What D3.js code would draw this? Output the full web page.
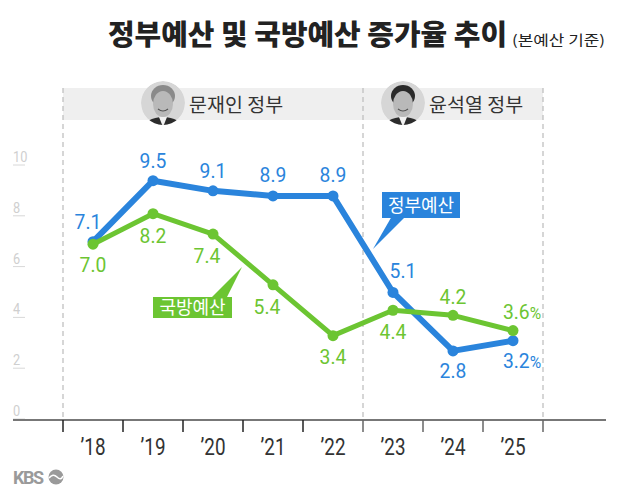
<!DOCTYPE html>
<html>
<head>
<meta charset="utf-8">
<script src="https://cdn.jsdelivr.net/npm/d3@7"></script>
<style>
  body { margin: 0; background: #fff; }
  svg { display: block; }
</style>
</head>
<body>
<div id="chart"></div>
<script>
// chart data
const years = ["’18", "’19", "’20", "’21", "’22", "’23", "’24", "’25"];
const govBudget = [7.1, 9.5, 9.1, 8.9, 8.9, 5.1, 2.8, 3.2];
const defBudget = [7.0, 8.2, 7.4, 5.4, 3.4, 4.4, 4.2, 3.6];
const yTicks = [0, 2, 4, 6, 8, 10];
const eras = [
  { name: "문재인 정부", from: 0, to: 5 },
  { name: "윤석열 정부", from: 5, to: 8 }
];

// label nudges (dx, dy from the point)
const govLabelPos = [[-5, -13], [0, -13], [0, -13], [0, -14], [0, -14], [10, -14], [0, 27], [9, 27]];
const defLabelPos = [[0, 28], [0, 29], [-6, 29], [-6, 29], [0, 28], [0, 29], [0, -11], [9, -12]];

const svgWidth = 618;
const svgHeight = 492;
const blue = "#2a84dc";
const green = "#6cc532";
const numFont = "Roboto, 'Noto Sans', sans-serif";
const krFont = "'Noto Sans CJK KR', 'Noto Sans', sans-serif";

const svg = d3.select("#chart")
  .append("svg")
  .attr("width", svgWidth)
  .attr("height", svgHeight);

// scales
const x = d3.scaleBand().domain(years).range([63, 543]);
const y = d3.scaleLinear().domain([0, 10]).range([422, 168]);
const cx = d => x(d) + x.bandwidth() / 2;

// title
svg.append("text")
  .attr("x", 108)
  .attr("y", 45)
  .attr("font-family", krFont)
  .attr("font-weight", 900)
  .attr("font-size", 28)
  .attr("fill", "#222")
  .attr("textLength", 399)
  .attr("lengthAdjust", "spacingAndGlyphs")
  .text("정부예산 및 국방예산 증가율 추이");

svg.append("text")
  .attr("x", 512)
  .attr("y", 45)
  .attr("font-family", krFont)
  .attr("font-size", 14)
  .attr("fill", "#222")
  .attr("textLength", 93)
  .attr("lengthAdjust", "spacingAndGlyphs")
  .text("(본예산 기준)");

// era band
const edges = d => d === years.length ? x.range()[1] : x(years[d]);
svg.append("rect")
  .attr("x", edges(0))
  .attr("y", 88)
  .attr("width", edges(8) - edges(0))
  .attr("height", 32)
  .attr("fill", "#efefef");

// dashed dividers
svg.append("g")
  .selectAll("line")
  .data([0, 5, 8])
  .enter()
  .append("line")
    .attr("x1", d => edges(d))
    .attr("x2", d => edges(d))
    .attr("y1", 88)
    .attr("y2", 420)
    .attr("stroke", "#bbb")
    .attr("stroke-width", 1.2)
    .attr("stroke-dasharray", "5,4");

// portraits + era names
const defs = svg.append("defs");
const faceX = [163, 403];
eras.forEach((e, i) => {
  const px = faceX[i], py = 103;
  defs.append("clipPath").attr("id", "clip" + i)
    .append("circle").attr("cx", px).attr("cy", py).attr("r", 22);
  const g = svg.append("g").attr("clip-path", `url(#clip${i})`);
  g.append("circle").attr("cx", px).attr("cy", py).attr("r", 22).attr("fill", "#d6d6d6");
  g.append("ellipse").attr("cx", px).attr("cy", py + 26).attr("rx", 20).attr("ry", 12).attr("fill", "#2c2c2c");
  g.append("path")
    .attr("d", `M${px - 4},${py + 14} L${px},${py + 24} L${px + 4},${py + 14} Z`)
    .attr("fill", "#f2f2f2");
  g.append("ellipse").attr("cx", px).attr("cy", py - 7).attr("rx", 12).attr("ry", 11)
    .attr("fill", i === 0 ? "#8a8a8a" : "#2a2a2a");
  g.append("ellipse").attr("cx", px).attr("cy", py + 1).attr("rx", 10).attr("ry", 13).attr("fill", "#b9b9b9");
  g.append("path")
    .attr("d", `M${px - 5},${py + 6} Q${px},${py + 10} ${px + 5},${py + 6}`)
    .attr("fill", "none").attr("stroke", "#555").attr("stroke-width", 1.2);

  svg.append("text")
    .attr("x", px + 26)
    .attr("y", 112)
    .attr("font-family", krFont)
    .attr("font-size", 19.5)
    .attr("fill", "#333")
    .text(e.name);
});

// y tick labels with underline
const yAxis = svg.append("g");
yTicks.forEach(t => {
  yAxis.append("text")
    .attr("transform", `translate(13, ${y(t) - 6}) scale(0.85, 1)`)
    .attr("font-family", numFont)
    .attr("font-size", 15)
    .attr("fill", "#cfcfcf")
    .text(t);
  yAxis.append("line")
    .attr("x1", 13).attr("x2", 25)
    .attr("y1", y(t) - 3).attr("y2", y(t) - 3)
    .attr("stroke", "#d8d8d8").attr("stroke-width", 1);
});

// x axis baseline, ticks and year labels
svg.append("line")
  .attr("x1", 13).attr("x2", 606)
  .attr("y1", 420).attr("y2", 420)
  .attr("stroke", "#777").attr("stroke-width", 2);

svg.append("g")
  .selectAll("line")
  .data(d3.range(years.length + 1))
  .enter()
  .append("line")
    .attr("x1", d => edges(d))
    .attr("x2", d => edges(d))
    .attr("y1", 420)
    .attr("y2", 432)
    .attr("stroke", d => d < 5 ? "#222" : "#666")
    .attr("stroke-width", 1.5);

svg.append("g")
  .selectAll("text")
  .data(years)
  .enter()
  .append("text")
    .attr("transform", d => `translate(${cx(d)}, 455) scale(0.82, 1)`)
    .attr("text-anchor", "middle")
    .attr("font-family", numFont)
    .attr("font-size", 23)
    .attr("fill", "#333")
    .text(d => d);

// lines
const line = d3.line()
  .x((d, i) => cx(years[i]))
  .y(d => y(d));

function drawSeries(values, color, width) {
  svg.append("path")
    .datum(values)
    .attr("d", line)
    .attr("fill", "none")
    .attr("stroke", color)
    .attr("stroke-width", width)
    .attr("stroke-linejoin", "round")
    .attr("stroke-linecap", "round");

  svg.append("g")
    .selectAll("circle")
    .data(values)
    .enter()
    .append("circle")
      .attr("cx", (d, i) => cx(years[i]))
      .attr("cy", d => y(d))
      .attr("r", 5.5)
      .attr("fill", color);
}

function drawLabels(values, pos, color) {
  values.forEach((v, i) => {
    const t = svg.append("text")
      .attr("transform", `translate(${cx(years[i]) + pos[i][0]}, ${y(v) + pos[i][1]}) scale(0.92, 1)`)
      .attr("text-anchor", "middle")
      .attr("font-family", numFont)
      .attr("font-size", 21)
      .attr("fill", color);
    t.append("tspan").text(v.toFixed(1));
    if (i === values.length - 1) {
      t.append("tspan").attr("font-size", 17).text("%");
    }
  });
}

drawSeries(govBudget, blue, 6);
drawSeries(defBudget, green, 5);
drawLabels(govBudget, govLabelPos, blue);
drawLabels(defBudget, defLabelPos, green);

// callouts
function callout(label, color, box, tri) {
  svg.append("path")
    .attr("d", `M${tri[0][0]},${tri[0][1]} L${tri[1][0]},${tri[1][1]} L${tri[2][0]},${tri[2][1]} Z`)
    .attr("fill", color);
  svg.append("rect")
    .attr("x", box[0]).attr("y", box[1])
    .attr("width", box[2]).attr("height", box[3])
    .attr("fill", color);
  svg.append("text")
    .attr("x", box[0] + box[2] / 2)
    .attr("y", box[1] + box[3] / 2 + 6.5)
    .attr("text-anchor", "middle")
    .attr("font-family", krFont)
    .attr("font-size", 18)
    .attr("fill", "#fff")
    .text(label);
}

callout("정부예산", blue, [382, 192, 78, 26], [[392, 216], [406, 216], [373, 249]]);
callout("국방예산", green, [153, 297, 79, 21], [[210, 299], [226, 299], [242, 267]]);

// KBS logo
svg.append("text")
  .attr("x", 13)
  .attr("y", 484)
  .attr("font-family", "Roboto, sans-serif")
  .attr("font-weight", 700)
  .attr("font-size", 18)
  .attr("letter-spacing", -1.5)
  .attr("fill", "#9a9a9a")
  .text("KBS");
svg.append("circle")
  .attr("cx", 56).attr("cy", 477).attr("r", 7.5)
  .attr("fill", "#9a9a9a");
svg.append("path")
  .attr("d", "M49,478 Q53,473 57,477 Q61,481 63,476")
  .attr("fill", "none").attr("stroke", "#fff").attr("stroke-width", 1.6);
</script>
</body>
</html>
